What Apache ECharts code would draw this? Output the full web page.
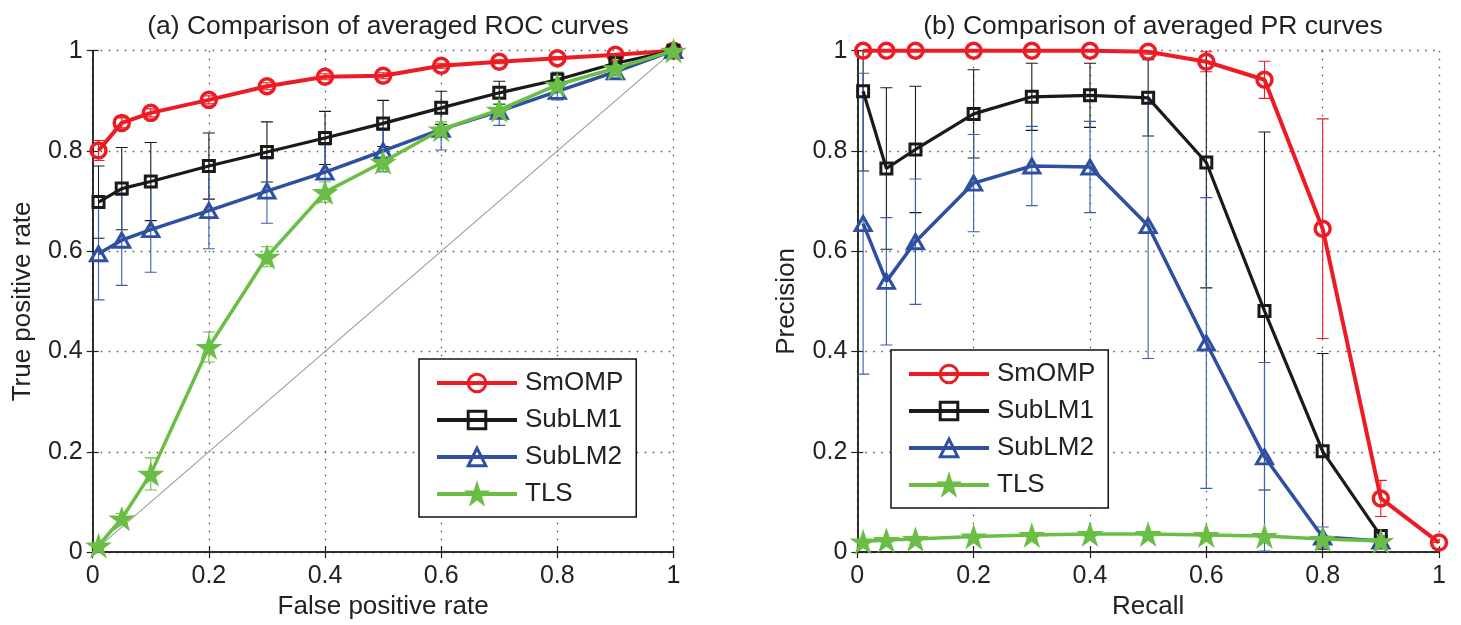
<!DOCTYPE html>
<html><head><meta charset="utf-8">
<script src="https://cdn.jsdelivr.net/npm/echarts@6/dist/echarts.min.js"></script>
<style>html,body{margin:0;padding:0;background:#fff}#c{width:1461px;height:625px}</style>
</head><body><div id="c"></div>
<script>
// ---------- data ----------
const seriesNames = ['SmOMP', 'SubLM1', 'SubLM2', 'TLS'];
const titleA = '(a) Comparison of averaged ROC curves';
const titleB = '(b) Comparison of averaged PR curves';
const axisNames = { rocX: 'False positive rate', rocY: 'True positive rate', prX: 'Recall', prY: 'Precision' };

// ROC (left)
const rocX = [0.01, 0.05, 0.1, 0.2, 0.3, 0.4, 0.5, 0.6, 0.7, 0.8, 0.9, 1.0];
const rocSmOMP = [0.801, 0.856, 0.876, 0.902, 0.929, 0.948, 0.950, 0.970, 0.978, 0.985, 0.992, 1.0];
const rocSubLM1 = [0.698, 0.725, 0.739, 0.770, 0.798, 0.826, 0.855, 0.886, 0.916, 0.942, 0.975, 1.0];
const rocSubLM2 = [0.595, 0.622, 0.643, 0.681, 0.720, 0.758, 0.800, 0.843, 0.879, 0.919, 0.958, 1.0];
const rocTLS = [0.013, 0.067, 0.156, 0.409, 0.589, 0.718, 0.778, 0.843, 0.882, 0.932, 0.965, 1.0];
const rocErrSmOMP = [0.020, 0.010, 0.008, 0.008, 0.007, 0.006, 0.006, 0.005, 0.004, 0.003, 0.002, 0];
const rocErrSubLM1 = [0.072, 0.082, 0.078, 0.066, 0.060, 0.053, 0.046, 0.033, 0.023, 0.015, 0.010, 0];
const rocErrSubLM2 = [0.092, 0.090, 0.085, 0.076, 0.064, 0.054, 0.041, 0.041, 0.028, 0.017, 0.008, 0];
const rocErrTLS = [0.005, 0.010, 0.032, 0.030, 0.020, 0.020, 0.020, 0.015, 0.012, 0.010, 0.006, 0];
const diagX = [0, 1];
const diagY = [0, 1];

// PR (right)
const prX = [0.01, 0.05, 0.1, 0.2, 0.3, 0.4, 0.5, 0.6, 0.7, 0.8, 0.9, 1.0];
const prSmOMP = [1.0, 1.0, 1.0, 1.0, 1.0, 1.0, 0.998, 0.978, 0.942, 0.645, 0.107, 0.019];
const prSubLM1 = [0.919, 0.765, 0.803, 0.874, 0.908, 0.911, 0.906, 0.777, 0.481, 0.201, 0.032];
const prSubLM2 = [0.655, 0.540, 0.619, 0.736, 0.770, 0.768, 0.651, 0.417, 0.190, 0.030, 0.022];
const prTLS = [0.021, 0.024, 0.026, 0.031, 0.034, 0.036, 0.036, 0.034, 0.032, 0.026, 0.022];
const prErrSmOMP = [0, 0, 0, 0, 0, 0, 0.005, 0.020, 0.037, 0.219, 0.036, 0];
const prErrSubLM1 = [0.159, 0.161, 0.126, 0.088, 0.067, 0.064, 0.076, 0.250, 0.357, 0.195, 0.010];
const prErrSubLM2 = [0.300, 0.127, 0.125, 0.097, 0.079, 0.091, 0.265, 0.290, 0.188, 0.020, 0.010];
const prErrTLS = [0.004, 0.004, 0.004, 0.004, 0.004, 0.004, 0.004, 0.004, 0.004, 0.004, 0.004];

// ---------- style ----------
const FONT = '"Liberation Sans", Arial, Helvetica, sans-serif';
const TXT = '#222';
const RED = '#ED1C24', BLACK = '#1A1A1A', BLUE = '#2F4FA0', GREEN = '#6ABE45';
const ERRBLUE = '#3D5DB2';
const STAR = 'path://M50 0 L61.23 34.55 L97.55 34.55 L68.16 55.9 L79.39 90.45 L50 69.1 L20.61 90.45 L31.84 55.9 L2.45 34.55 L38.77 34.55 Z';

const styles = {
  SmOMP: { color: RED, err: RED, width: 4, symbol: 'circle', size: 15, bw: 3.5, fill: 'rgba(0,0,0,0)' },
  SubLM1: { color: BLACK, err: BLACK, width: 3.2, symbol: 'rect', size: 11, bw: 3, fill: 'rgba(0,0,0,0)' },
  SubLM2: { color: BLUE, err: ERRBLUE, width: 3.5, symbol: 'triangle', size: [16, 14], bw: 3, fill: 'rgba(0,0,0,0)' },
  TLS: { color: GREEN, err: GREEN, width: 3.5, symbol: STAR, size: 27, bw: 0, fill: GREEN }
};

const zip = (xs, ys) => ys.map((y, i) => [xs[i], y]);

function lineSeries(name, xs, ys, axisIdx, z) {
  const s = styles[name];
  return {
    type: 'line', name, xAxisIndex: axisIdx, yAxisIndex: axisIdx,
    data: zip(xs, ys), symbol: s.symbol, symbolSize: s.size, symbolKeepAspect: true,
    showAllSymbol: true, clip: false, z: z, animation: false,
    emphasis: { disabled: true },
    lineStyle: { color: s.color, width: s.width },
    itemStyle: { color: s.fill, borderColor: s.color, borderWidth: s.bw }
  };
}

function errSeries(name, xs, ys, errs, axisIdx) {
  const s = styles[name];
  const data = ys.map((y, i) => [xs[i], y - errs[i], y + errs[i]]);
  return {
    type: 'custom', name: name + ' error', xAxisIndex: axisIdx, yAxisIndex: axisIdx,
    data, clip: true, silent: true, z: 2, animation: false,
    encode: { x: 0, y: [1, 2] },
    renderItem(params, api) {
      const x = api.value(0), lo = api.value(1), hi = api.value(2);
      const a = api.coord([x, lo]), b = api.coord([x, hi]);
      const cw = 6;
      const st = { stroke: s.err, lineWidth: 1.1 };
      return {
        type: 'group', children: [
          { type: 'line', shape: { x1: a[0], y1: a[1], x2: b[0], y2: b[1] }, style: st },
          { type: 'line', shape: { x1: a[0] - cw, y1: a[1], x2: a[0] + cw, y2: a[1] }, style: st },
          { type: 'line', shape: { x1: b[0] - cw, y1: b[1], x2: b[0] + cw, y2: b[1] }, style: st }
        ]
      };
    }
  };
}

const axisLine = { show: true, lineStyle: { color: TXT, width: 1.5 } };
const grid = { show: true, lineStyle: { color: '#555', width: 1.3, type: [1.5, 6.5] } };

function mainX(gi, name) {
  return {
    type: 'value', gridIndex: gi, min: 0, max: 1, interval: 0.2, position: 'bottom',
    name, nameLocation: 'middle', nameGap: 37,
    nameTextStyle: { fontSize: 26, fontFamily: FONT, color: TXT },
    axisLine, axisTick: { show: true, inside: true, length: 6, lineStyle: { color: TXT, width: 1.2 } },
    axisLabel: { fontSize: 25, fontFamily: FONT, color: TXT, margin: 12 },
    splitLine: grid
  };
}
function mainY(gi, name) {
  return {
    type: 'value', gridIndex: gi, min: 0, max: 1, interval: 0.2, position: 'left',
    name, nameLocation: 'middle', nameGap: 57,
    nameTextStyle: { fontSize: 26, fontFamily: FONT, color: TXT },
    axisLine, axisTick: { show: true, inside: true, length: 6, lineStyle: { color: TXT, width: 1.2 } },
    axisLabel: { fontSize: 25, fontFamily: FONT, color: TXT, margin: 10 },
    splitLine: grid
  };
}
function sideX(gi) {
  return {
    type: 'value', gridIndex: gi, min: 0, max: 1, interval: 0.2, position: 'top',
    axisLine, axisTick: { show: true, inside: true, length: 6, lineStyle: { color: TXT, width: 1.2 } },
    axisLabel: { show: false }, splitLine: { show: false }
  };
}
function sideY(gi) {
  return {
    type: 'value', gridIndex: gi, min: 0, max: 1, interval: 0.2, position: 'right',
    axisLine, axisTick: { show: true, inside: true, length: 6, lineStyle: { color: TXT, width: 1.2 } },
    axisLabel: { show: false }, splitLine: { show: false }
  };
}

function legendAt(left, top) {
  return {
    data: seriesNames, left, top, orient: 'vertical', selectedMode: false,
    itemWidth: 80, itemHeight: 22, itemGap: 11,
    padding: [11, 13, 10, 16],
    borderColor: '#111', borderWidth: 1.5, backgroundColor: '#fff',
    lineStyle: { width: 4 },
    itemStyle: { borderWidth: 3 },
    textStyle: { fontSize: 26, fontFamily: FONT, color: TXT, padding: [0, 0, 0, 3] }
  };
}

const series = [];
// diagonal reference line
series.push({
  type: 'line', name: 'diag', xAxisIndex: 0, yAxisIndex: 0, data: zip(diagX, diagY),
  symbol: 'none', lineStyle: { color: '#9a9a9a', width: 1.1 }, z: 1, silent: true, animation: false
});
const roc = { SmOMP: [rocSmOMP, rocErrSmOMP], SubLM1: [rocSubLM1, rocErrSubLM1], SubLM2: [rocSubLM2, rocErrSubLM2], TLS: [rocTLS, rocErrTLS] };
const pr = { SmOMP: [prSmOMP, prErrSmOMP], SubLM1: [prSubLM1, prErrSubLM1], SubLM2: [prSubLM2, prErrSubLM2], TLS: [prTLS, prErrTLS] };
seriesNames.forEach((n, k) => {
  series.push(lineSeries(n, rocX, roc[n][0], 0, 3 + k));
  series.push(lineSeries(n, prX, pr[n][0], 1, 3 + k));
});
seriesNames.forEach((n) => {
  series.push(errSeries(n, rocX, roc[n][0], roc[n][1], 0));
  series.push(errSeries(n, prX, pr[n][0], pr[n][1], 1));
});

const option = {
  animation: false,
  backgroundColor: '#fff',
  title: [
    { text: titleA, left: 383, top: 8, textAlign: 'center', textStyle: { fontSize: 26.5, fontWeight: 'normal', fontFamily: FONT, color: TXT } },
    { text: titleB, left: 1148, top: 8, textAlign: 'center', textStyle: { fontSize: 26.5, fontWeight: 'normal', fontFamily: FONT, color: TXT } }
  ],
  legend: [legendAt(419, 359), legendAt(891, 350)],
  grid: [
    { left: 92.7, top: 50.7, width: 580.8, height: 505, show: false },
    { left: 857.3, top: 50.7, width: 581.7, height: 505, show: false }
  ],
  xAxis: [mainX(0, axisNames.rocX), mainX(1, axisNames.prX), sideX(0), sideX(1)],
  yAxis: [mainY(0, axisNames.rocY), mainY(1, axisNames.prY), sideY(0), sideY(1)],
  series
};

const chart = echarts.init(document.getElementById('c'), null, { renderer: 'canvas' });
chart.setOption(option);
</script>
</body></html>
